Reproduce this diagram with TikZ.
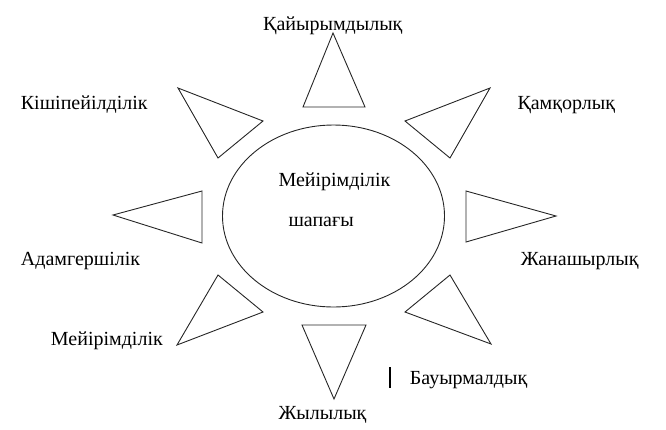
\documentclass[tikz,border=0pt]{standalone}
\usepackage{fontspec}
\setmainfont{Liberation Serif}
\usetikzlibrary{shapes.geometric}
\begin{document}
\begin{tikzpicture}[x=1pt,y=-1pt,
  ray/.style={draw=black!85,line width=0.9pt,line join=miter},
  lbl/.style={inner sep=0pt,anchor=base west,font=\fontsize{20}{24}\selectfont}]
\useasboundingbox (0,0) rectangle (666,429);
\node[ellipse,draw=black!85,line width=0.9pt,minimum width=222pt,minimum height=182pt,inner sep=0pt] (sun) at (333.5,216) {};
% rays
\draw[ray] (303,107) -- (365,107) -- (333,33) -- cycle;
\draw[ray] (178,88) -- (263,121) -- (218,158) -- cycle;
\draw[ray] (490,88) -- (405,121) -- (450,158) -- cycle;
\draw[ray] (202,191) -- (113,215) -- (202,243) -- cycle;
\draw[ray] (466,191) -- (556,216) -- (466,242) -- cycle;
\draw[ray] (218,275) -- (263,312) -- (177,345) -- cycle;
\draw[ray] (450,275) -- (405,312) -- (491,344) -- cycle;
\draw[ray] (302,325) -- (366,325) -- (334,399) -- cycle;
% labels
\node[lbl] (t1) at (263,30.5) {Қайырымдылық};
\node[lbl] (t2) at (20.7,109) {Кішіпейілділік};
\node[lbl] (t3) at (517.3,109.3) {Қамқорлық};
\node[lbl] (c1) at (278.3,186.7) {Мейірімділік};
\node[lbl] (c2) at (288.3,226.7) {шапағы};
\node[lbl] (t4) at (20.7,265.7) {Адамгершілік};
\node[lbl] (t5) at (520.7,265.7) {Жанашырлық};
\node[lbl] (t6) at (50.7,345) {Мейірімділік};
\node[lbl] (t7) at (409.7,384) {Бауырмалдық};
\node[lbl] (t8) at (278.3,419) {Жылылық};
\draw[line width=2pt] (389.7,367.3) -- (389.7,388.3);
\end{tikzpicture}
\end{document}
